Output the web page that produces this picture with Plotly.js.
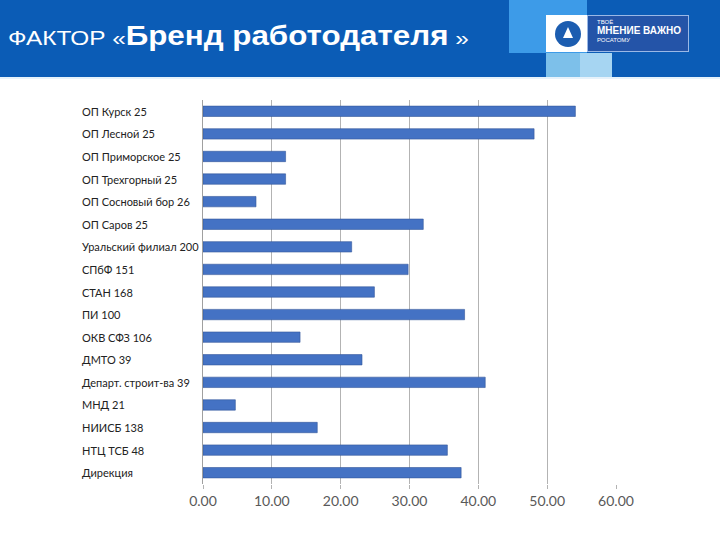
<!DOCTYPE html>
<html>
<head>
<meta charset="utf-8">
<script src="https://cdn.plot.ly/plotly-3.0.1.min.js"></script>
<style>
  html, body { margin: 0; padding: 0; background: #fff; }
  #page { position: relative; width: 720px; height: 540px; overflow: hidden; }
  #chart { position: absolute; left: 0; top: 0; width: 720px; height: 540px; }
  .header { position: absolute; left: 0; top: 0; width: 720px; height: 77px; background: #0b5cb6; }
  .header-line { position: absolute; left: 0; top: 77px; width: 720px; height: 2px; background: #e6f2fb; }
  .title { position: absolute; left: 8px; top: 21px; color: #fff; font-family: "Liberation Sans", Arial, sans-serif; white-space: nowrap; transform: scaleX(1.16); transform-origin: left center; }
  .title .light { font-size: 21px; }
  .title .bold { font-size: 27px; font-weight: bold; }
  .sq { position: absolute; }
  .logo-text { position: absolute; left: 597px; top: 19px; color: #fff; font-family: "Liberation Sans", Arial, sans-serif; line-height: 1; }
  .logo-text .s { font-size: 6px; }
  .logo-text .b { font-size: 10px; font-weight: bold; margin: 1px 0; }
</style>
</head>
<body>
<div id="page">
  <div id="chart"></div>
  <div class="header"></div>
  <div class="sq" style="left:509px;top:0;width:78px;height:53px;background:#3d9be8;"></div>
  <div class="sq" style="left:546px;top:53px;width:34px;height:24px;background:#7dc0ea;"></div>
  <div class="sq" style="left:580px;top:53px;width:32px;height:24px;background:#a6d5f2;"></div>
  <div class="sq" style="left:546px;top:15px;width:41px;height:37px;background:#fff;"></div>
  <div class="sq" style="left:587px;top:15px;width:102px;height:37px;background:#2454a8;border:1px solid #9ab8e6;box-sizing:border-box;"></div>
  <div class="sq" style="left:555px;top:21px;width:26px;height:26px;border-radius:50%;background:#1c5db0;"></div>
  <div class="sq" style="left:563px;top:27px;width:0;height:0;border-left:5px solid transparent;border-right:5px solid transparent;border-bottom:11px solid #fff;"></div>
  <div class="logo-text"><div class="s">ТВОЁ</div><div class="b">МНЕНИЕ ВАЖНО</div><div class="s">РОСАТОМУ</div></div>
  <div class="header-line"></div>
  <div class="title"><span class="light">ФАКТОР «</span><span class="bold">Бренд работодателя</span><span class="light"> »</span></div>
</div>
<script>
  const categories = [
    "ОП Курск 25",
    "ОП Лесной 25",
    "ОП Приморское 25",
    "ОП Трехгорный 25",
    "ОП Сосновый бор 26",
    "ОП Саров 25",
    "Уральский филиал 200",
    "СПбФ 151",
    "СТАН 168",
    "ПИ 100",
    "ОКВ СФЗ 106",
    "ДМТО 39",
    "Департ. строит-ва 39",
    "МНД 21",
    "НИИСБ 138",
    "НТЦ ТСБ 48",
    "Дирекция"
  ];
  const values = [54.1, 48.1, 12.0, 12.0, 7.7, 32.0, 21.6, 29.8, 24.9, 38.0, 14.1, 23.1, 41.0, 4.7, 16.6, 35.5, 37.5];
  const tickValues = [0, 10, 20, 30, 40, 50, 60];
  const tickLabels = ["0.00", "10.00", "20.00", "30.00", "40.00", "50.00", "60.00"];

  const plotLeft = 203;
  const plotWidth = 720 - plotLeft - 104;
  const labelX = (80 - plotLeft) / plotWidth;

  const labelAnnotations = categories.map((name) => ({
    text: name,
    xref: "paper",
    yref: "y",
    x: labelX,
    y: name,
    xanchor: "left",
    yanchor: "middle",
    showarrow: false,
    font: { family: "Lato, 'Open Sans', sans-serif", size: 11, color: "#222" }
  }));

  Plotly.newPlot(
    "chart",
    [
      {
        type: "bar",
        orientation: "h",
        x: values,
        y: categories,
        width: 0.46,
        marker: { color: "#4472c4", line: { color: "#34589a", width: 0.6 } },
        hoverinfo: "x+y"
      }
    ],
    {
      width: 720,
      height: 540,
      paper_bgcolor: "#fff",
      plot_bgcolor: "#fff",
      margin: { l: plotLeft, r: 104, t: 100, b: 56 },
      showlegend: false,
      xaxis: {
        range: [0, 60],
        tickvals: tickValues,
        ticktext: tickLabels,
        showgrid: true,
        gridcolor: "#b3b3b3",
        gridwidth: 1,
        zeroline: false,
        showline: false,
        ticks: "outside",
        ticklen: 4,
        tickcolor: "#b3b3b3",
        tickfont: { family: "Lato, 'Open Sans', sans-serif", size: 14, color: "#595959" }
      },
      yaxis: {
        type: "category",
        autorange: "reversed",
        showticklabels: false,
        showgrid: false,
        zeroline: false,
        showline: true,
        linecolor: "#a0a0a0",
        linewidth: 1.5,
        ticks: ""
      },
      annotations: labelAnnotations
    },
    { displayModeBar: false, staticPlot: true }
  );
</script>
</body>
</html>
